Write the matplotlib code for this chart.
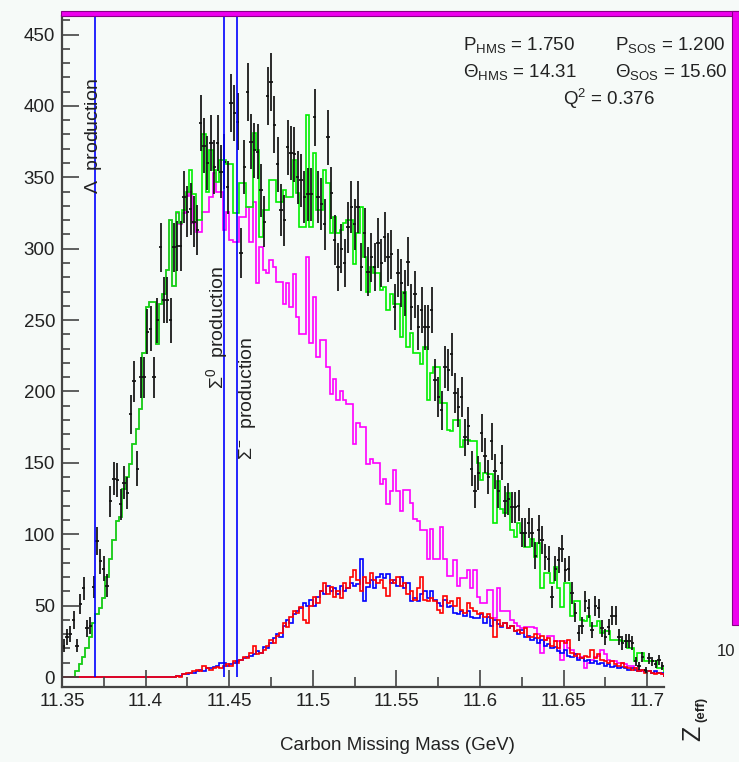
import numpy as np
import matplotlib
matplotlib.use("Agg")
import matplotlib.pyplot as plt
from matplotlib.patches import Rectangle
from matplotlib.transforms import Bbox, TransformedBbox, blended_transform_factory

plt.rcParams['font.family'] = ['Liberation Sans', 'DejaVu Sans']
plt.rcParams['mathtext.fontset'] = 'custom'
plt.rcParams['mathtext.rm'] = 'Liberation Sans'
plt.rcParams['mathtext.it'] = 'Liberation Sans:italic'
plt.rcParams['mathtext.bf'] = 'Liberation Sans:bold'

# ---- binning (GeV) ----
mass_lo = 11.35
bin_width = 0.002
n_bins = 180

# ---- measured counts per bin ----
data_counts = [
    22, 28, 30, 40, 22, 51, 62, 34, 36, 63,
    95, 81, 76, 64, 123, 139, 138, 121, 136, 129,
    184, 207, 146, 210, 210, 242, 244, 210, 250, 301,
    264, 264, 250, 301, 302, 302, 336, 326, 328, 319,
    313, 388, 372, 360, 374, 357, 374, 354, 361, 343,
    402, 395, 389, 297, 357, 410, 375, 369, 368, 341,
    319, 407, 417, 387, 359, 327, 320, 371, 367, 366,
    350, 348, 336, 338, 338, 392, 336, 331, 317, 378,
    339, 306, 287, 300, 290, 315, 329, 317, 329, 287,
    311, 284, 294, 287, 304, 290, 308, 294, 296, 259,
    283, 276, 269, 291, 259, 268, 245, 257, 245, 245,
    257, 208, 196, 187, 217, 215, 226, 199, 189, 196,
    168, 176, 146, 130, 143, 171, 155, 140, 165, 144,
    130, 150, 123, 125, 119, 119, 120, 101, 101, 108,
    101, 85, 103, 96, 84, 83, 56, 76, 82, 90,
    75, 76, 59, 45, 31, 36, 53, 48, 33, 50,
    48, 34, 28, 35, 43, 43, 28, 24, 25, 25,
    24, 11, 8, 14, 5, 13, 11, 9, 12, 8,
]

# ---- simulation: total ----
sim_total = [
    0, 0, 0, 0, 4, 9, 14, 20, 28, 38,
    44, 48, 55, 70, 83, 96, 109, 112, 132, 140,
    149, 163, 174, 188, 227, 259, 263, 263, 233, 261,
    268, 285, 320, 274, 326, 318, 327, 340, 355, 338,
    320, 320, 380, 340, 369, 355, 347, 362, 362, 359,
    359, 325, 325, 346, 346, 329, 329, 381, 369, 308,
    327, 327, 348, 348, 333, 333, 341, 336, 336, 362,
    339, 315, 315, 394, 315, 367, 327, 327, 355, 346,
    311, 322, 311, 313, 318, 320, 320, 289, 311, 329,
    294, 270, 287, 283, 283, 271, 273, 257, 268, 261,
    261, 238, 270, 231, 241, 227, 227, 219, 231, 194,
    213, 217, 217, 192, 192, 173, 172, 180, 180, 161,
    166, 166, 165, 165, 150, 138, 143, 142, 142, 108,
    137, 118, 115, 129, 103, 98, 108, 101, 91, 91,
    97, 84, 94, 62, 73, 73, 66, 77, 62, 49,
    66, 66, 43, 53, 53, 40, 39, 43, 36, 36,
    39, 31, 32, 32, 26, 26, 26, 25, 25, 20,
    20, 11, 17, 17, 11, 11, 11, 11, 6, 6,
]

# ---- simulation: Lambda production ----
sim_lambda = [
    0, 0, 0, 0, 4, 9, 14, 20, 28, 38,
    44, 48, 55, 70, 83, 96, 109, 112, 132, 140,
    149, 163, 174, 188, 227, 259, 263, 263, 233, 261,
    268, 285, 320, 274, 325, 317, 325, 337, 340, 318,
    312, 312, 326, 326, 336, 353, 340, 340, 313, 326,
    306, 305, 305, 322, 322, 329, 305, 333, 276, 301,
    285, 283, 292, 287, 277, 277, 261, 276, 259, 282,
    252, 240, 240, 294, 234, 266, 224, 236, 236, 217,
    198, 209, 194, 200, 194, 191, 191, 163, 178, 175,
    175, 149, 153, 150, 150, 135, 139, 121, 130, 145,
    130, 116, 131, 131, 122, 111, 109, 103, 103, 83,
    104, 83, 83, 105, 83, 71, 71, 82, 64, 69,
    69, 75, 62, 75, 56, 52, 52, 61, 61, 41,
    62, 46, 46, 46, 40, 38, 36, 34, 35, 35,
    35, 34, 30, 17, 26, 29, 29, 25, 25, 12,
    25, 20, 19, 16, 13, 14, 6, 10, 12, 14,
    15, 19, 16, 12, 11, 11, 10, 10, 9, 8,
    8, 6, 5, 4, 4, 4, 3, 3, 3, 2,
]

# ---- simulation: Sigma0 production ----
sim_sigma0 = [
    0, 0, 0, 0, 0, 0, 0, 0, 0, 0,
    0, 0, 0, 0, 0, 0, 0, 0, 0, 0,
    0, 0, 0, 0, 0, 0, 0, 0, 0, 0,
    0, 0, 0, 0, 1, 1, 2, 2, 3, 3,
    4, 5, 4, 6, 6, 7, 8, 10, 10, 8,
    9, 10, 11, 12, 13, 14, 15, 16, 18, 17,
    21, 20, 24, 27, 30, 28, 36, 40, 38, 44,
    46, 48, 52, 50, 54, 50, 56, 60, 58, 64,
    60, 62, 58, 64, 60, 62, 66, 64, 65, 83,
    53, 63, 68, 62, 70, 72, 69, 72, 66, 68,
    64, 70, 62, 66, 53, 55, 53, 58, 60, 55,
    60, 54, 52, 50, 54, 49, 50, 45, 44, 46,
    43, 46, 42, 41, 41, 44, 38, 42, 36, 40,
    37, 35, 38, 34, 36, 32, 30, 33, 28, 29,
    26, 27, 24, 26, 22, 23, 20, 21, 18, 17,
    19, 15, 14, 16, 12, 13, 11, 12, 10, 11,
    9, 10, 8, 9, 7, 8, 6, 7, 6, 5,
    6, 5, 4, 5, 4, 4, 3, 4, 3, 3,
]

# ---- simulation: Sigma- production ----
sim_sigma_minus = [
    0, 0, 0, 0, 0, 0, 0, 0, 0, 0,
    0, 0, 0, 0, 0, 0, 0, 0, 0, 0,
    0, 0, 0, 0, 0, 0, 0, 0, 0, 0,
    0, 0, 0, 0, 1, 0, 2, 3, 3, 4,
    5, 4, 8, 6, 5, 6, 7, 6, 8, 9,
    8, 11, 10, 12, 14, 13, 17, 22, 16, 17,
    19, 22, 26, 24, 29, 31, 38, 35, 42, 46,
    45, 49, 40, 38, 50, 56, 52, 60, 66, 58,
    63, 56, 60, 55, 66, 62, 70, 75, 68, 60,
    70, 66, 73, 68, 66, 68, 62, 57, 68, 66,
    70, 64, 66, 58, 60, 54, 62, 70, 54, 53,
    55, 53, 47, 45, 57, 52, 53, 50, 55, 47,
    45, 52, 48, 46, 44, 45, 42, 44, 41, 28,
    40, 36, 38, 34, 36, 32, 33, 31, 34, 28,
    28, 30, 27, 29, 26, 27, 22, 25, 20, 25,
    24, 26, 17, 15, 16, 13, 15, 14, 19, 13,
    16, 12, 11, 10, 11, 9, 8, 10, 7, 6,
    5, 6, 4, 5, 3, 4, 3, 2, 3, 2,
]

# production thresholds (GeV)
thresholds = [11.370, 11.447, 11.4544]
threshold_labels = [r'$\Lambda$  production', r'$\Sigma^{0}$  production', r'$\Sigma^{-}$  production']
threshold_label_pos = [(11.3688, 379), (11.4430, 245), (11.4609, 195)]

x_ticks = [11.35, 11.4, 11.45, 11.5, 11.55, 11.6, 11.65, 11.7]
x_tick_labels = ['11.35', '11.4', '11.45', '11.5', '11.55', '11.6', '11.65', '11.7']
y_ticks = [0, 50, 100, 150, 200, 250, 300, 350, 400, 450]

kinematics = [
    (r'P$_{\rm HMS}$ = 1.750', 463, 50),
    (r'P$_{\rm SOS}$ = 1.200', 615, 50),
    (r'$\Theta_{\rm HMS}$ = 14.31', 463, 77),
    (r'$\Theta_{\rm SOS}$ = 15.60', 615, 77),
    (r'Q$^{2}$ = 0.376', 563, 105),
]

# ---------------------------------------------------------------
W, H = 739, 762
bg = '#f6faf8'
fig = plt.figure(figsize=(W / 100, H / 100), dpi=100, facecolor=bg)
ax = fig.add_axes([62 / W, 75 / H, 602 / W, 671 / H], facecolor=bg)

edges = mass_lo + bin_width * np.arange(n_bins + 1)
centers = 0.5 * (edges[:-1] + edges[1:])
counts = np.array(data_counts, dtype=float)

lw = 1.2
ax.stairs(sim_lambda, edges, color='#ff00ff', lw=lw, baseline=0)
ax.stairs(sim_total, edges, color='#00ee00', lw=lw, baseline=0)
ax.stairs(sim_sigma0, edges, color='#0000ff', lw=lw, baseline=0)
ax.stairs(sim_sigma_minus, edges, color='#ff0000', lw=lw, baseline=0)

ax.errorbar(centers, counts, yerr=np.sqrt(counts), xerr=bin_width / 2,
            fmt='none', ecolor='#111111', elinewidth=1.25, capsize=0)

ymin, ymax = -7, 463
ax.vlines(thresholds, 0, ymax, colors='#0000ff', lw=1.2)
for label, (lx, ly) in zip(threshold_labels, threshold_label_pos):
    ax.text(lx, ly, label, rotation=90, ha='center', va='center',
            fontsize=14, color='#222222')

ax.set_xlim(mass_lo, mass_lo + n_bins * bin_width)
ax.set_ylim(ymin, ymax)

for side in ('top', 'right'):
    ax.spines[side].set_visible(False)
for side in ('left', 'bottom'):
    ax.spines[side].set_color('#444444')
    ax.spines[side].set_linewidth(1.6)

ax.set_yticks(y_ticks)
ax.set_yticks(np.arange(0, 461, 10), minor=True)
ax.set_xticks(x_ticks)
ax.set_xticks(np.arange(11.375, 11.71, 0.05), minor=True)
ax.set_xticklabels([])
ax.tick_params(axis='both', which='both', direction='in', color='#444444', width=1.2)
ax.tick_params(axis='y', which='major', length=12, labelsize=13.5, pad=5, labelcolor='#222222')
ax.tick_params(axis='y', which='minor', length=6)
ax.tick_params(axis='x', which='major', length=12)
ax.tick_params(axis='x', which='minor', length=7)

# x tick labels, clipped at the right edge of the frame
clip = TransformedBbox(Bbox.from_extents(0, 0, 664 / W, 1), fig.transFigure)
trans = blended_transform_factory(ax.transData, fig.transFigure)
for v, s in zip(x_ticks, x_tick_labels):
    t = fig.text(v, (H - 701) / H, s, transform=trans, ha='center', va='center',
                 fontsize=13.5, color='#222222')
    t.set_clip_box(clip)
    t.set_clip_on(True)

fig.text(397 / W, (H - 745) / H, 'Carbon Missing Mass (GeV)', ha='center', va='center',
         fontsize=13.5, color='#222222')

for s, px, py in kinematics:
    fig.text(px / W, (H - py) / H, s, ha='left', va='baseline', fontsize=13.5, color='#222222')

# frame border
fig.patches.append(Rectangle((61 / W, (H - 16) / H), (W - 61) / W, 5 / H, transform=fig.transFigure,
                             facecolor='#ee00ee', edgecolor='#880088', lw=0.8))
fig.patches.append(Rectangle((732 / W, (H - 625) / H), 7 / W, 614 / H, transform=fig.transFigure,
                             facecolor='#ee00ee', edgecolor='#880088', lw=0.8))

fig.text(726 / W, (H - 651) / H, '10', ha='center', va='center', fontsize=12, color='#222222')
fig.text(693 / W, (H - 733) / H, 'Z', rotation=90, ha='center', va='center', fontsize=18, color='#222222')
fig.text(701 / W, (H - 709) / H, '(eff)', rotation=90, ha='center', va='center', fontsize=9.5,
         fontweight='bold', color='#222222')

fig.savefig('out.png', dpi=100, facecolor=bg)
